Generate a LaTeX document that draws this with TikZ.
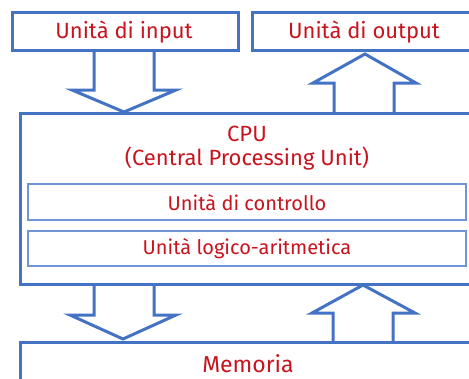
\documentclass[tikz,border=0pt]{standalone}
\usepackage{fontspec}
\setmainfont{Fira Sans}
\definecolor{bl}{HTML}{4472C4}
\definecolor{bll}{HTML}{7094D6}
\definecolor{rd}{HTML}{C8141E}
\begin{document}
\begin{tikzpicture}[x=1pt,y=-1pt,
  box/.style={draw=bl,line width=3pt,fill=white,inner sep=0pt},
  subbox/.style={draw=bll,line width=1.3pt,inner sep=0pt},
  lbl/.style={text=rd,inner sep=0pt,font=\fontsize{22}{26}\selectfont},
  sublbl/.style={text=rd,inner sep=0pt,font=\fontsize{20}{24}\selectfont},
  barrow/.style={draw=bl,line width=3pt,line join=miter}]
\useasboundingbox (0,0) rectangle (469,378);
\clip (0,0) rectangle (469,378);
% boxes
\node[box,minimum width=226pt,minimum height=38pt] (in) at (125,31) {};
\node[lbl] (inl) at (124,32) {Unità di input};
\node[box,minimum width=230pt,minimum height=38pt] (out) at (367,31) {};
\node[lbl] (outl) at (364,32) {Unità di output};
\node[box,minimum width=456pt,minimum height=171pt] (cpu) at (248,198.5) {};
\node[lbl] (cpul1) at (247,134) {CPU};
\node[lbl] (cpul2) at (247,159) {(Central Processing Unit)};
\node[subbox,minimum width=438pt,minimum height=36pt] (cu) at (247,202) {};
\node[sublbl] (cul) at (247,203) {Unità di controllo};
\node[subbox,minimum width=438pt,minimum height=35pt] (alu) at (247,248.5) {};
\node[sublbl] (alul) at (247,249) {Unità logico-aritmetica};
\node[box,minimum width=456pt,minimum height=60pt] (mem) at (248,372) {};
\node[lbl,font=\fontsize{23}{27}\selectfont] (meml) at (248,364) {Memoria};
% block arrows
\draw[barrow] (94,50) -- (94,90) -- (72,90) -- (124,112) -- (176,90) -- (154,90) -- (154,50);
\draw[barrow] (334,112) -- (334,83) -- (313,83) -- (365,54) -- (416,83) -- (394,83) -- (394,112);
\draw[barrow] (94,284) -- (94,315) -- (70,315) -- (123,339) -- (176,315) -- (154,315) -- (154,284);
\draw[barrow] (333,342) -- (333,313) -- (312,313) -- (363,285) -- (415,313) -- (393,313) -- (393,342);
\end{tikzpicture}
\end{document}
